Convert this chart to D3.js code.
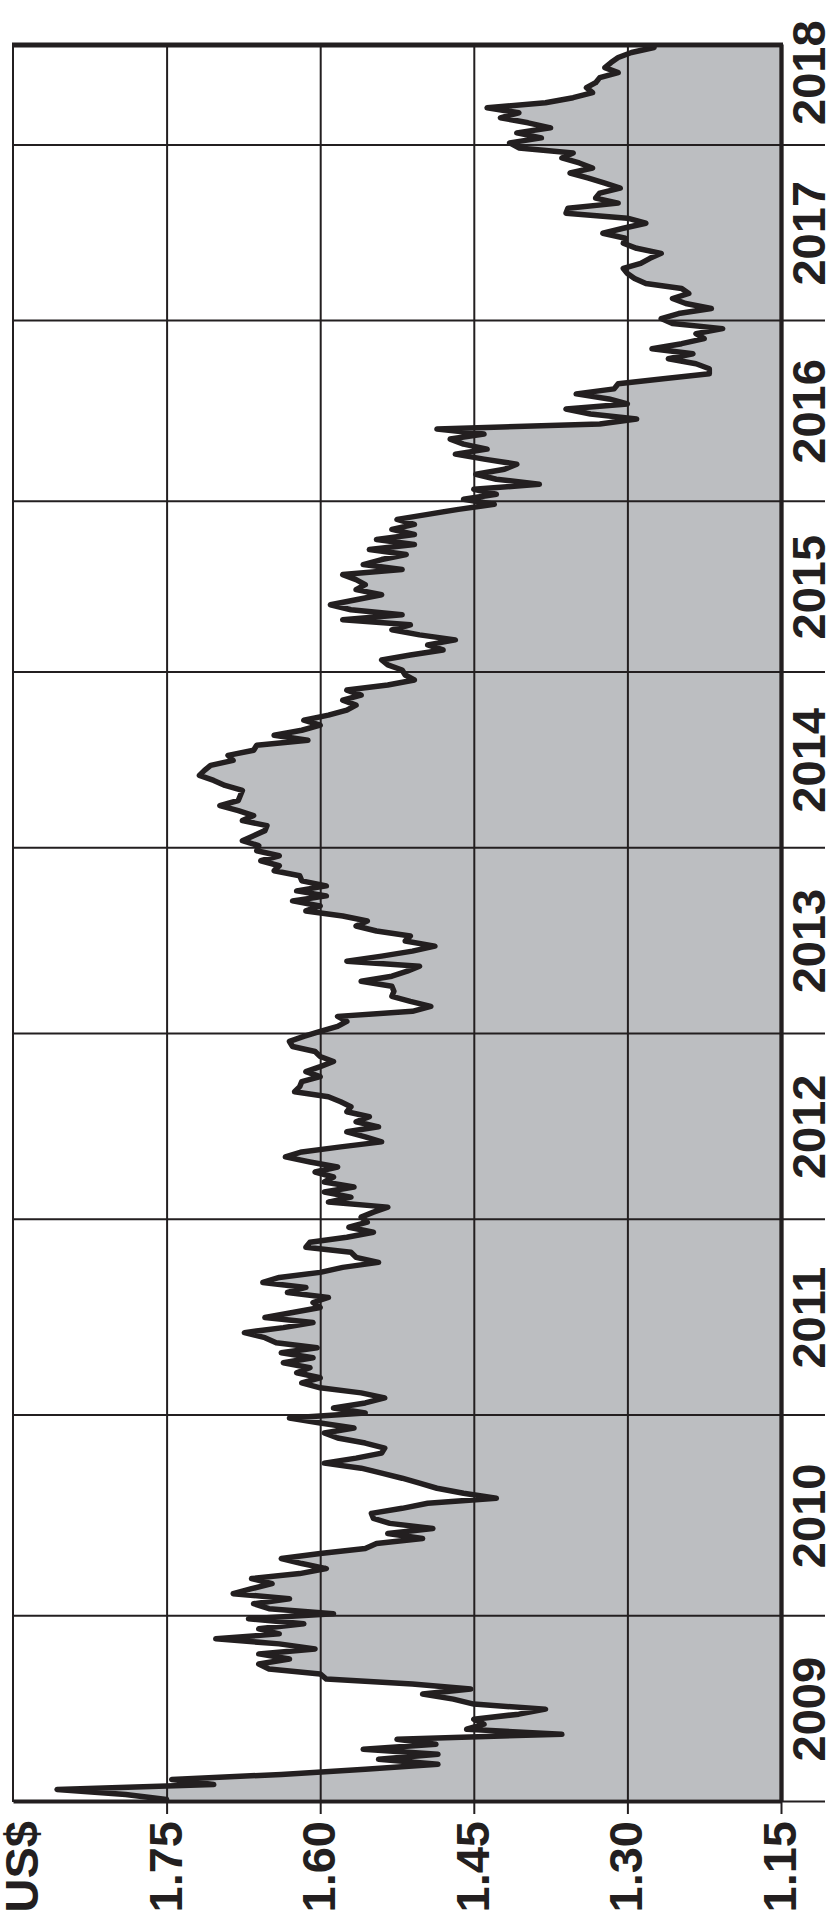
<!DOCTYPE html>
<meta charset="utf-8">
<style>
  body { margin: 0; background: #fff; }
  svg { display: block; }
  text { font-family: "Liberation Sans", Arial, sans-serif; font-weight: bold; fill: #231f20; }
</style>
<body></body>
<script src="https://cdn.jsdelivr.net/npm/d3@7/dist/d3.min.js"></script>
<script>
  const width = 836
  const height = 1925

  // the chart is laid out as an ordinary time chart, then turned a quarter turn
  // counter-clockwise, so the time axis runs up the page
  const chartWidth = height
  const chartHeight = width
  const margin = { top: 13, right: 45, bottom: 55, left: 123 }

  const ink = "#231f20"
  const fillColor = "#bcbec1"
  const fontSize = 47

  const unitLabel = "US$"
  const valueDomain = [1.15, 1.90]
  const valueTicks = [1.15, 1.30, 1.45, 1.60, 1.75]
  const years = [2009, 2010, 2011, 2012, 2013, 2014, 2015, 2016, 2017, 2018]

  const values2009 = [1.75,1.79,1.857,1.704,1.745,1.638,1.556,1.485,1.543,1.485,1.558,1.487,1.525,1.364,1.457,1.44,1.45,1.406,1.38,1.45,1.47,1.50,1.453,1.51,1.594,1.60,1.65,1.66,1.63,1.66,1.605,1.64,1.702,1.64,1.66,1.616,1.67]
  const values2010 = [1.587,1.65,1.665,1.63,1.685,1.667,1.647,1.667,1.62,1.594,1.618,1.638,1.60,1.556,1.545,1.50,1.534,1.49,1.532,1.548,1.55,1.52,1.495,1.428,1.46,1.486,1.503,1.52,1.54,1.56,1.596,1.565,1.54,1.537,1.556,1.583,1.596,1.567,1.60,1.63]
  const values2011 = [1.556,1.587,1.556,1.537,1.56,1.60,1.618,1.60,1.623,1.61,1.636,1.607,1.638,1.603,1.643,1.654,1.674,1.636,1.607,1.654,1.627,1.60,1.607,1.592,1.632,1.614,1.656,1.64,1.60,1.578,1.543,1.565,1.57,1.614,1.61,1.574,1.548,1.572,1.554]
  const values2012 = [1.56,1.548,1.534,1.592,1.57,1.596,1.567,1.596,1.587,1.605,1.583,1.61,1.634,1.618,1.58,1.54,1.556,1.574,1.543,1.565,1.552,1.574,1.57,1.58,1.592,1.625,1.62,1.618,1.60,1.614,1.60,1.587,1.60,1.605,1.627,1.63,1.616]
  const values2013 = [1.60,1.583,1.574,1.583,1.51,1.492,1.512,1.53,1.528,1.53,1.56,1.53,1.515,1.503,1.574,1.54,1.51,1.488,1.517,1.512,1.545,1.565,1.554,1.578,1.614,1.60,1.627,1.594,1.623,1.594,1.618,1.62,1.645,1.64,1.658,1.64,1.662]
  const values2014 = [1.66,1.676,1.665,1.654,1.652,1.676,1.665,1.68,1.698,1.68,1.678,1.676,1.693,1.704,1.718,1.713,1.707,1.685,1.69,1.665,1.662,1.612,1.645,1.618,1.60,1.616,1.592,1.574,1.565,1.578,1.56,1.574,1.534,1.508,1.517]
  const values2015 = [1.52,1.534,1.54,1.512,1.48,1.495,1.468,1.503,1.53,1.512,1.578,1.52,1.57,1.59,1.565,1.54,1.565,1.556,1.565,1.578,1.52,1.558,1.54,1.516,1.552,1.508,1.545,1.508,1.53,1.508,1.525,1.495,1.465,1.43]
  const values2016 = [1.46,1.428,1.45,1.386,1.428,1.448,1.42,1.408,1.44,1.468,1.437,1.46,1.473,1.44,1.486,1.327,1.291,1.336,1.36,1.30,1.318,1.35,1.313,1.309,1.265,1.22,1.22,1.233,1.26,1.236,1.276,1.247,1.225,1.233,1.207,1.256]
  const values2017 = [1.267,1.25,1.218,1.243,1.256,1.24,1.247,1.282,1.293,1.30,1.304,1.287,1.278,1.267,1.291,1.304,1.302,1.324,1.304,1.282,1.30,1.36,1.358,1.309,1.331,1.327,1.307,1.322,1.338,1.356,1.334,1.347,1.364,1.353,1.406]
  const values2018 = [1.415,1.384,1.408,1.375,1.397,1.424,1.406,1.437,1.38,1.353,1.334,1.34,1.331,1.327,1.309,1.322,1.316,1.309,1.296,1.274]

  const seriesByYear = [values2009, values2010, values2011, values2012, values2013,
    values2014, values2015, values2016, values2017, values2018]

  // flatten to one run of observations, remembering where each year starts
  const yearStarts = []
  const points = []
  seriesByYear.forEach(values => {
    yearStarts.push(points.length)
    values.forEach(v => points.push({ i: points.length, value: v }))
  })
  const total = points.length

  const x = d3.scaleLinear()
    .domain([0, total])
    .range([margin.left, chartWidth - margin.right])

  const y = d3.scaleLinear()
    .domain(valueDomain)
    .range([chartHeight - margin.bottom, margin.top])

  const innerWidth = chartWidth - margin.left - margin.right
  const innerHeight = chartHeight - margin.top - margin.bottom

  // chart coords -> page coords for the quarter turn
  const toPage = (cx, cy) => [cy, height - cx]

  const svg = d3.select("body")
    .append("svg")
    .attr("width", width)
    .attr("height", height)

  svg.append("rect")
    .attr("width", width)
    .attr("height", height)
    .attr("fill", "#fff")

  const chart = svg.append("g")
    .attr("transform", `translate(0,${height}) rotate(-90)`)

  // grey area under the line
  const area = d3.area()
    .x(d => x(d.i + 0.5))
    .y0(y(valueDomain[0]))
    .y1(d => y(d.value))

  chart.append("path")
    .datum(points)
    .attr("fill", fillColor)
    .attr("d", area)

  // grid (lines only)
  chart.append("g")
    .attr("transform", `translate(${margin.left},0)`)
    .call(d3.axisLeft(y).tickValues(valueTicks).tickSize(-innerWidth))
    .call(g => g.select(".domain").remove())
    .call(g => g.selectAll(".tick text").remove())
    .call(g => g.selectAll("line").attr("stroke", ink).attr("stroke-width", 2))

  chart.append("g")
    .attr("transform", `translate(0,${chartHeight - margin.bottom})`)
    .call(d3.axisBottom(x).tickValues(yearStarts.slice(1)).tickSize(innerHeight))
    .call(g => g.select(".domain").remove())
    .call(g => g.selectAll(".tick text").remove())
    .call(g => g.selectAll("line").attr("y2", -innerHeight).attr("stroke", ink).attr("stroke-width", 2))

  // price line
  const line = d3.line()
    .x(d => x(d.i + 0.5))
    .y(d => y(d.value))

  chart.append("path")
    .datum(points)
    .attr("fill", "none")
    .attr("stroke", ink)
    .attr("stroke-width", 5.5)
    .attr("stroke-linejoin", "round")
    .attr("stroke-linecap", "round")
    .attr("d", line)

  // frame: thin on the far value side, heavy on the late end
  chart.append("line")
    .attr("x1", x(0)).attr("x2", x(total))
    .attr("y1", y(valueDomain[1])).attr("y2", y(valueDomain[1]))
    .attr("stroke", ink).attr("stroke-width", 2)

  chart.append("line")
    .attr("x1", x(total)).attr("x2", x(total))
    .attr("y1", y(valueDomain[1]) - 1).attr("y2", y(valueDomain[0]) + 2)
    .attr("stroke", ink).attr("stroke-width", 5)

  // value axis: line and ticks
  const yAxis = chart.append("g")
    .attr("transform", `translate(${margin.left},0)`)
    .call(d3.axisLeft(y)
      .tickValues(valueTicks)
      .tickSize(12)
      .tickSizeOuter(0))
    .call(g => g.selectAll(".tick text").remove())

  yAxis.select(".domain").attr("stroke", ink).attr("stroke-width", 4)
  yAxis.selectAll(".tick line").attr("stroke", ink).attr("stroke-width", 2)

  // time axis: line and year ticks
  const xAxis = chart.append("g")
    .attr("transform", `translate(0,${chartHeight - margin.bottom})`)
    .call(d3.axisBottom(x)
      .tickValues(yearStarts)
      .tickSize(44)
      .tickSizeOuter(0))
    .call(g => g.selectAll(".tick text").remove())

  xAxis.select(".domain").attr("stroke", ink).attr("stroke-width", 4.3)
  xAxis.selectAll(".tick line").attr("stroke", ink).attr("stroke-width", 2)

  // labels live on the page layer, each turned on its own anchor
  const labels = svg.append("g")
    .style("font-size", fontSize + "px")

  const labelAt = (cx, cy) => {
    const [px, py] = toPage(cx, cy)
    return `translate(${px},${py}) rotate(-90)`
  }

  const fmt = d3.format(".2f")
  const labelEnd = margin.left - 19

  labels.selectAll("text.value")
    .data(valueTicks)
    .join("text")
    .classed("value", true)
    .attr("transform", d => labelAt(labelEnd, y(d)))
    .attr("dy", "0.32em")
    .attr("text-anchor", "end")
    .text(fmt)

  labels.append("text")
    .attr("transform", labelAt(labelEnd, y(valueDomain[1]) + 10))
    .attr("dy", "0.32em")
    .attr("text-anchor", "end")
    .text(unitLabel)

  // year names sit in the middle of each year's band
  const bandEnds = yearStarts.slice(1).map(x).concat([chartWidth])
  labels.selectAll("text.year")
    .data(years)
    .join("text")
    .classed("year", true)
    .attr("transform", (d, i) => labelAt((x(yearStarts[i]) + bandEnds[i]) / 2, chartHeight - margin.bottom + 44))
    .attr("text-anchor", "middle")
    .text(d => d)
</script>
